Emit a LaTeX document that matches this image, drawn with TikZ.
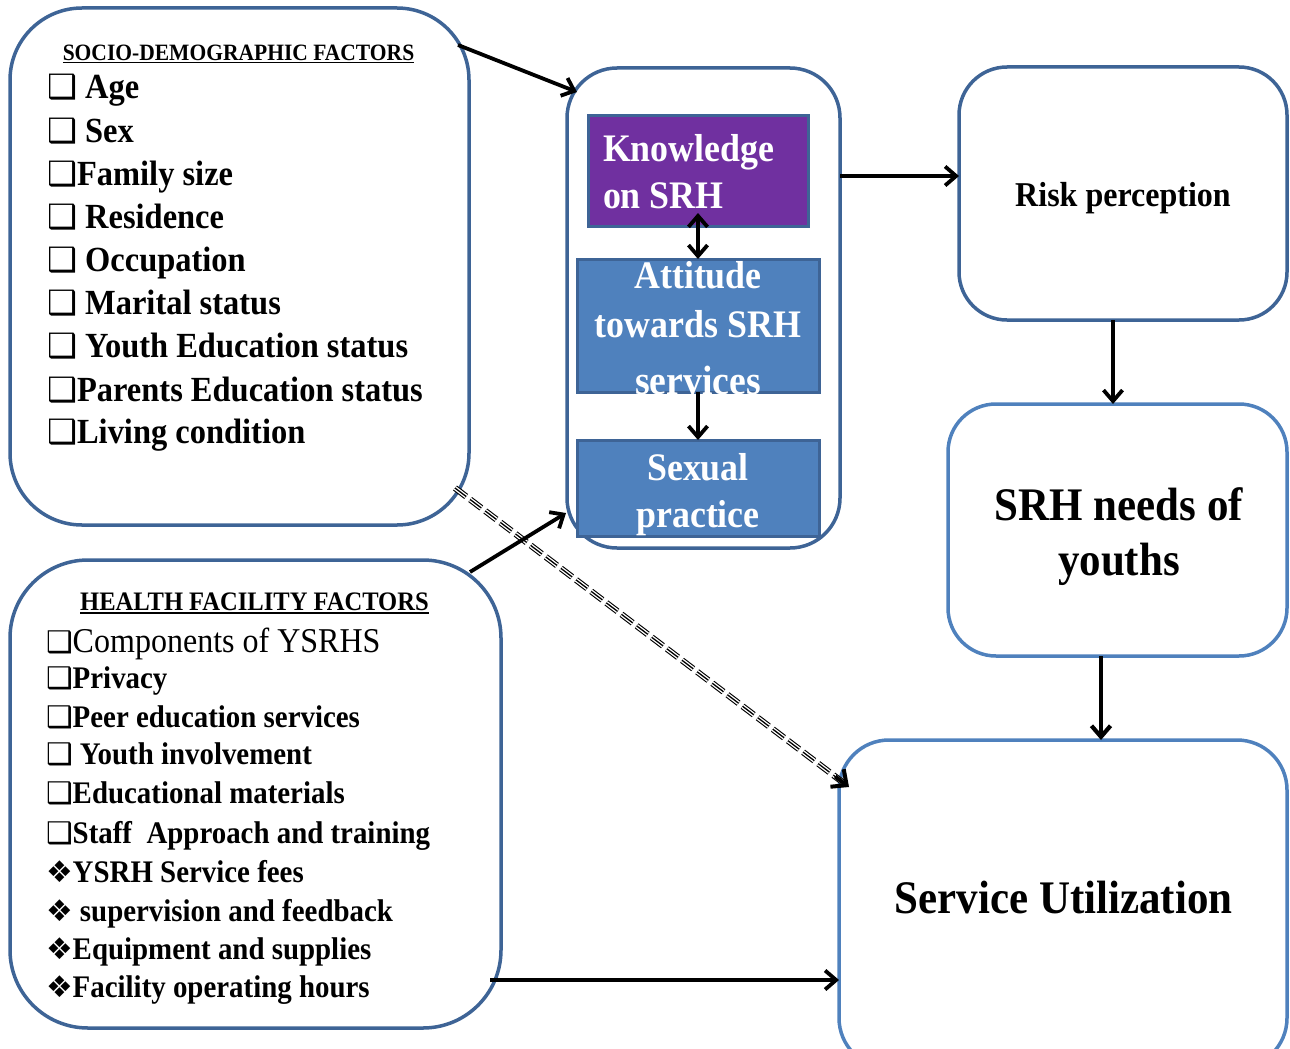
\documentclass[tikz,border=0pt]{standalone}
\usepackage{fontspec}
\setmainfont[FakeStretch=0.92]{Liberation Serif}
\newfontfamily\dvs[Scale=0.95]{DejaVu Sans}
\usetikzlibrary{arrows.meta,calc}
\definecolor{bdark}{RGB}{62,100,150}
\definecolor{blite}{RGB}{79,129,189}
\definecolor{kpurp}{RGB}{112,48,160}
\newcommand\cbx{{\dvs ❑}}
\newcommand\dmd{{\dvs ❖}}
\newcommand\fsi{\fontsize{35.3pt}{40pt}\selectfont\bfseries}
\newcommand\fhi{\fontsize{31.4pt}{36pt}\selectfont\bfseries}
\begin{document}
\begin{tikzpicture}[x=1pt,y=-1pt,
  box/.style={draw=bdark,line width=3.5pt,inner sep=0pt,outer sep=0pt,fill=white},
  inbox/.style={draw=bdark,line width=3pt,inner sep=0pt,outer sep=0pt},
  arr/.style={line width=3.8pt,-{Straight Barb[length=11pt,width=19pt]}},
  lbl/.style={inner sep=0pt,outer sep=0pt,anchor=base west},
  clbl/.style={inner sep=0pt,outer sep=0pt,anchor=base},
  wlbl/.style={clbl,text=white,font=\fontsize{39pt}{44pt}\selectfont\bfseries},
  dpat/.style={dash pattern=on 14pt off 5pt,shorten >=8pt}
]
\useasboundingbox (0,0) rectangle (1290,1049);
\clip (0,0) rectangle (1290,1049);

% ---- boxes
\node[box,rounded corners=72pt,minimum width=459pt,minimum height=517pt] (socio) at (239.5,266.5) {};
\node[box,rounded corners=78pt,minimum width=491pt,minimum height=468pt] (health) at (255.5,794) {};
\node[box,rounded corners=50pt,minimum width=273pt,minimum height=480pt] (mid) at (703.5,308) {};
\node[inbox,fill=kpurp,minimum width=220pt,minimum height=111pt] (kn) at (698,170.5) {};
\node[inbox,fill=blite,minimum width=242pt,minimum height=133pt] (att) at (698,325.5) {};
\node[inbox,fill=blite,minimum width=242pt,minimum height=96pt] (sex) at (698,488) {};
\node[box,rounded corners=48pt,minimum width=328pt,minimum height=253pt] (risk) at (1123,193.5) {};
\node[box,draw=blite,rounded corners=48pt,minimum width=339pt,minimum height=252pt] (srh) at (1117.5,530) {};
\node[box,draw=blite,rounded corners=50pt,minimum width=448pt,minimum height=328pt] (serv) at (1063,904) {};

% ---- socio-demographic text
\node[clbl,font=\fontsize{23.4pt}{28pt}\selectfont\bfseries] (st) at (238.5,60) {SOCIO-DEMOGRAPHIC FACTORS};
\draw[line width=1.8pt] ([yshift=-2.5pt]st.base west) -- ([yshift=-2.5pt]st.base east);
\foreach \yy/\itm [count=\i] in {99/{\cbx\ Age},142/{\cbx\ Sex},185/{\cbx Family size},228/{\cbx\ Residence},271/{\cbx\ Occupation},314/{\cbx\ Marital status},357/{\cbx\ Youth Education status},401/{\cbx Parents Education status},443/{\cbx Living condition}}
  \node[lbl,font=\fsi] (si\i) at (47,\yy) {\itm};

% ---- health facility text
\node[clbl,font=\fontsize{26.7pt}{30pt}\selectfont\bfseries] (ht) at (254.5,610) {HEALTH FACILITY FACTORS};
\draw[line width=2pt] ([yshift=-2.5pt]ht.base west) -- ([yshift=-2.5pt]ht.base east);
\node[lbl,font=\fontsize{34.8pt}{40pt}\selectfont] (hi0) at (46,652) {{\dvs\fontsize{31.4pt}{36pt}\selectfont ❑}Components of YSRHS};
\foreach \yy/\itm [count=\i] in {688/{\cbx Privacy},727/{\cbx Peer education services},764/{\cbx\ Youth involvement},803/{\cbx Educational materials},843/{\cbx Staff\ \ Approach and training},882/{\dmd YSRH Service fees},921/{\dmd\ supervision and feedback},959/{\dmd Equipment and supplies},997/{\dmd Facility operating hours}}
  \node[lbl,font=\fhi] (hi\i) at (46,\yy) {\itm};

% ---- middle texts
\node[wlbl,anchor=base west] (kt1) at (603,161) {Knowledge};
\node[wlbl,anchor=base west] (kt2) at (603,208) {on SRH};
\node[wlbl] (at1) at (698,288) {Attitude};
\node[wlbl] (at2) at (698,337) {towards SRH};
\node[wlbl,font=\fontsize{41pt}{44pt}\selectfont\bfseries] (at3) at (698,394) {services};
\node[wlbl] (sx1) at (698,480) {Sexual};
\node[wlbl] (sx2) at (698,527) {practice};

% ---- right texts
\node[clbl,font=\fontsize{34.8pt}{40pt}\selectfont\bfseries] (rt) at (1123,206) {Risk perception};
\node[clbl,font=\fontsize{46.7pt}{52pt}\selectfont\bfseries] (nt1) at (1119,520) {SRH needs of};
\node[clbl,font=\fontsize{46.7pt}{52pt}\selectfont\bfseries] (nt2) at (1119,575) {youths};
\node[clbl,font=\fontsize{46.7pt}{52pt}\selectfont\bfseries] (ut) at (1063.5,913) {Service Utilization};

% ---- dashed triple arrow
\coordinate (d1) at ($(socio.south east)+(-14,-37)$);
\coordinate (d2) at ($(serv.north west)+(10,47)$);
\draw[line width=6.2pt,dpat] (d1) -- (d2);
\draw[white,line width=4pt,dpat] (d1) -- (d2);
\draw[line width=1.3pt,dpat] (d1) -- (d2);
\draw[line width=4pt,-{Straight Barb[length=12pt,width=22pt]}] ($(d1)!0.965!(d2)$) -- (d2);

% ---- solid arrows
\coordinate (a1) at ($(socio.north east)+(-11,37)$);
\coordinate (a2) at ($(mid.north west)+(10,24)$);
\draw[arr] (a1) -- (a2);
\coordinate (b1) at ($(health.north east)+(-31,12)$);
\coordinate (b2) at ($(mid.south west)+(-1,-35)$);
\draw[arr] (b1) -- (b2);
\coordinate (c1) at ($(mid.east)+(0,-132)$);
\draw[arr] (c1) -- (c1 -| risk.west);
\draw[line width=3.8pt,{Straight Barb[length=11pt,width=19pt]}-{Straight Barb[length=11pt,width=19pt]}] ($(kn.south)+(0,-13)$) -- (att.north);
\draw[arr] (att.south) -- (sex.north);
\coordinate (r1) at ($(risk.south)+(-10,0)$);
\draw[arr] (r1) -- (r1 |- srh.north);
\coordinate (n1) at ($(srh.south)+(-16.5,0)$);
\draw[arr,line width=4.2pt] (n1) -- (n1 |- serv.north);
\coordinate (h1) at ($(health.east)+(-11,186)$);
\draw[arr] (h1) -- (h1 -| serv.west);
\end{tikzpicture}
\end{document}
